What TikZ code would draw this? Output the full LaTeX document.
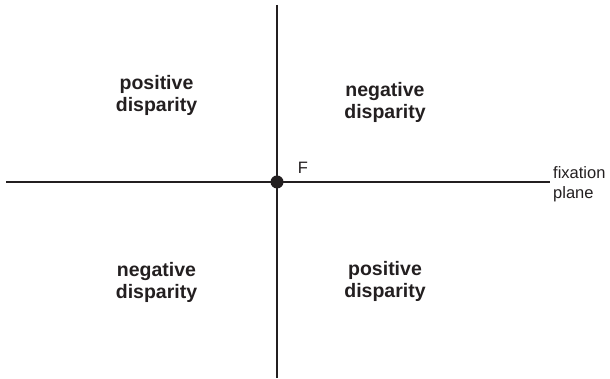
\documentclass[tikz,border=0pt]{standalone}
\usepackage{fontspec}
\setmainfont{Liberation Sans}
\usepackage{xcolor}
\definecolor{figdark}{HTML}{231F20}
\usetikzlibrary{positioning}
\tikzset{
  axisline/.style={draw=figdark, line width=1.1pt},
  fixdot/.style={
    circle, fill=figdark, draw=none,
    minimum size=13pt, inner sep=0pt
  },
  quadlabel/.style={
    align=center, text=figdark, inner sep=0pt,
    font=\fontsize{19.5}{22}\selectfont\bfseries
  },
  sidelabel/.style={
    align=left, text=figdark, inner sep=0pt,
    font=\fontsize{16.5}{20}\selectfont
  }
}

\begin{document}
\begin{tikzpicture}[x=1pt, y=1pt]
  \useasboundingbox (0,0) rectangle (610,379);

  %% ---- axes ----
  \coordinate (ax_l) at (6,197);
  \coordinate (ax_r) at (550,197);
  \coordinate (ax_t) at (277,374);
  \coordinate (ax_b) at (277,1);

  \draw[axisline] (ax_l) -- (ax_r);
  \draw[axisline] (ax_t) -- (ax_b);

  %% ---- fixation point ----
  \node[fixdot] (fix) at (277,197) {};
  \node[sidelabel] (f_lab) at (303,211.5) {F};

  \node[sidelabel, anchor=west] (plane) at (553,194.5) {fixation\\plane};

  %% ---- quadrants ----
  \node[quadlabel] (q_tl) at (156.5,284) {positive\\disparity};
  \node[quadlabel] (q_tr) at (385,277) {negative\\disparity};
  \node[quadlabel] (q_bl) at (156.5,96.5) {negative\\disparity};
  \node[quadlabel] (q_br) at (385,98) {positive\\disparity};

\end{tikzpicture}
\end{document}
